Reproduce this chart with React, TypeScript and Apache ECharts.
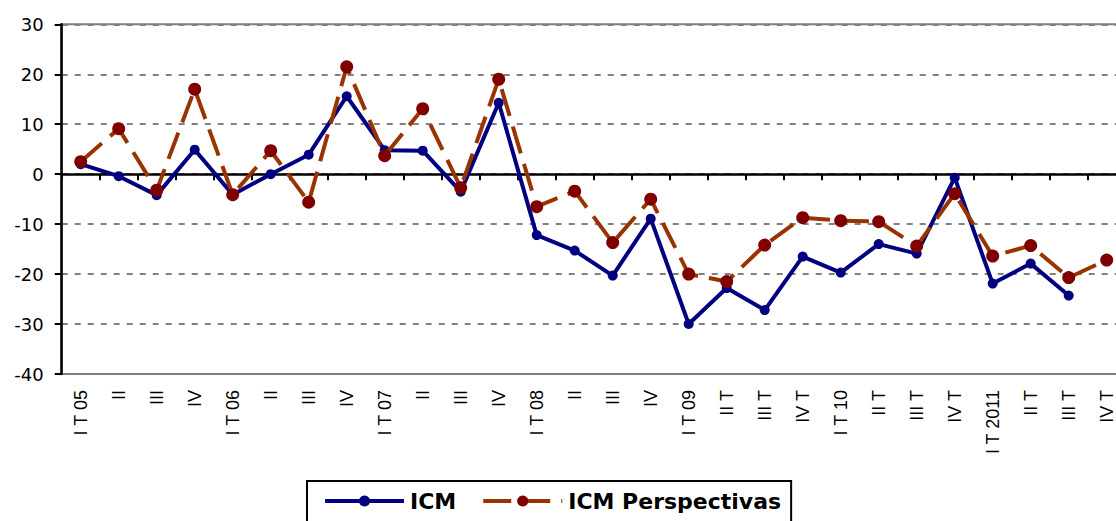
import React, { useEffect, useRef } from "react";
import * as echarts from "echarts";

const categories = [
  "I T 05", "II", "III", "IV",
  "I T 06", "II", "III", "IV",
  "I T 07", "II", "III", "IV",
  "I T 08", "II", "III", "IV",
  "I T 09", "II T", "III T", "IV T",
  "I T 10", "II T", "III T", "IV T",
  "I T 2011", "II T", "III T", "IV T",
];

const icm = [
  2.0, -0.4, -4.2, 4.9,
  -4.1, 0.0, 3.9, 15.6,
  4.8, 4.7, -3.5, 14.3,
  -12.2, -15.3, -20.3, -8.9,
  -30.0, -22.8, -27.2, -16.5,
  -19.7, -14.0, -15.9, -0.7,
  -21.9, -17.9, -24.3, null,
];

const icmPerspectivas = [
  2.5, 9.1, -3.2, 17.0,
  -4.1, 4.7, -5.6, 21.5,
  3.7, 13.1, -2.7, 19.0,
  -6.5, -3.4, -13.7, -5.0,
  -20.0, -21.5, -14.2, -8.7,
  -9.3, -9.5, -14.4, -3.9,
  -16.4, -14.3, -20.7, -17.2,
];

const yMin = -40;
const yMax = 30;
const yStep = 10;

export default function App() {
  const ref = useRef<HTMLDivElement>(null);

  useEffect(() => {
    if (!ref.current) return;
    const chart = echarts.init(ref.current, undefined, { renderer: "svg" });
    chart.setOption({
      animation: false,
      backgroundColor: "#ffffff",
      grid: {
        left: 61.7,
        top: 24.3,
        right: 14.3,
        bottom: 156,
        containLabel: false,
        outerBoundsMode: "none",
        show: true,
        borderColor: "#808080",
        borderWidth: 2,
        backgroundColor: "transparent",
      },
      legend: {
        left: 307,
        top: 481,
        orient: "horizontal",
        itemWidth: 79,
        itemHeight: 14,
        itemGap: 25,
        padding: [9, 10, 16, 16],
        borderColor: "#000000",
        borderWidth: 2,
        lineStyle: { width: 4 },
        textStyle: {
          fontFamily: "DejaVu Sans",
          fontWeight: "bold",
          fontSize: 22,
          color: "#000000",
          padding: [0, 0, 0, 1],
        },
        data: ["ICM", "ICM Perspectivas"],
      },
      xAxis: {
        type: "category",
        data: categories,
        boundaryGap: true,
        axisLine: {
          show: true,
          onZero: true,
          lineStyle: { color: "#000000", width: 2.5 },
        },
        axisTick: {
          show: true,
          interval: 0,
          length: 6,
          lineStyle: { color: "#000000", width: 2 },
        },
        axisLabel: {
          interval: 0,
          rotate: 90,
          margin: 16,
          fontFamily: "Liberation Sans, Arial",
          fontSize: 18,
          color: "#000000",
        },
        splitLine: { show: false },
      },
      yAxis: {
        type: "value",
        min: yMin,
        max: yMax,
        interval: yStep,
        axisLine: {
          show: true,
          lineStyle: { color: "#000000", width: 2.5 },
        },
        axisTick: {
          show: true,
          length: 7,
          lineStyle: { color: "#000000", width: 2 },
        },
        axisLabel: {
          margin: 18,
          fontFamily: "DejaVu Sans",
          fontSize: 18,
          color: "#000000",
        },
        splitLine: {
          show: true,
          lineStyle: { color: "#808080", width: 2, type: [6, 7] },
        },
      },
      series: [
        {
          name: "ICM",
          type: "line",
          data: icm,
          symbol: "circle",
          symbolSize: 10,
          showSymbol: true,
          connectNulls: false,
          lineStyle: { color: "#000080", width: 4 },
          itemStyle: { color: "#000080" },
          z: 3,
        },
        {
          name: "ICM Perspectivas",
          type: "line",
          data: icmPerspectivas,
          symbol: "circle",
          symbolSize: 13,
          showSymbol: true,
          lineStyle: { color: "#993300", width: 4, type: [28, 11], cap: "butt" },
          itemStyle: { color: "#800000" },
          z: 4,
        },
      ],
    });
    return () => chart.dispose();
  }, []);

  return (
    <div
      style={{
        position: "fixed",
        left: 0,
        top: 0,
        width: 1116,
        height: 521,
        overflow: "hidden",
        background: "#ffffff",
      }}
    >
      <div ref={ref} style={{ width: 1140, height: 530 }} />
    </div>
  );
}
